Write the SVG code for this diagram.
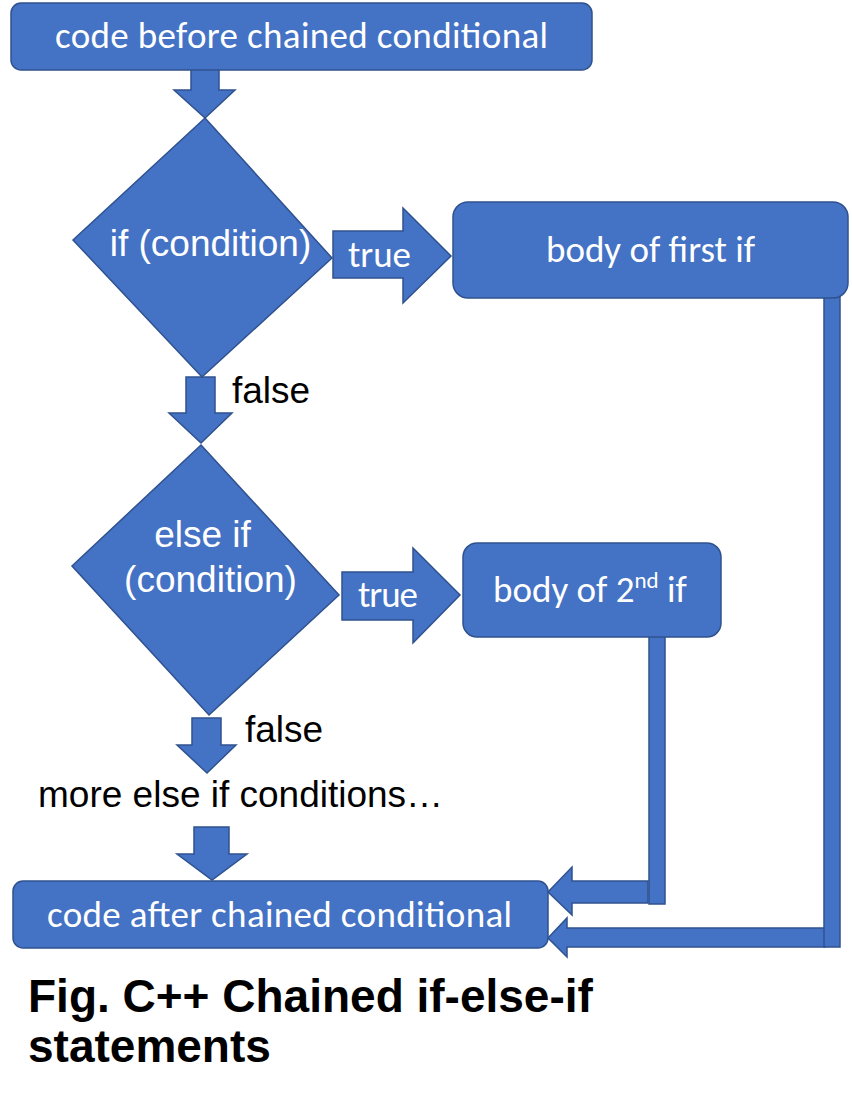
<svg xmlns="http://www.w3.org/2000/svg" width="852" height="1104" viewBox="0 0 852 1104">
<style>
.shape{fill:#4472C4;stroke:#2F528F;stroke-width:1.5;stroke-linejoin:miter}
.wt{fill:#ffffff;font-family:Carlito,Lato,'Open Sans',sans-serif;font-size:37px}
.ht{font-family:'Liberation Sans',Arial,Helvetica,sans-serif;font-size:37px}
.dt{fill:#ffffff}
.bt{fill:#000000}
.cap{font-family:'Liberation Sans',Arial,Helvetica,sans-serif;font-size:46px;font-weight:bold;fill:#000000}
</style>
<rect x="0" y="0" width="852" height="1104" fill="#ffffff"/>
<g id="connectors">
  <polygon class="shape" points="191,66 219,66 219,90 235,90 205,118 174,90 191,90"/>
  <polygon class="shape" points="333,231 403,231 403,208 451,256 403,303 403,278 333,278"/>
  <polygon class="shape" points="186,377 215,377 215,413 232,413 201,443 169,413 186,413"/>
  <polygon class="shape" points="342,572 413,572 413,548 460,595 413,643 413,620 342,620"/>
  <polygon class="shape" points="192,718 221,718 221,745 236,745 207,773 177,745 192,745"/>
  <polygon class="shape" points="194,827 229,827 229,854 247,854 212,880 177,854 194,854"/>
  <polygon class="shape" points="825,928 567,928 567,918 548,938 567,957 567,947 825,947"/>
  <rect class="shape" x="824" y="297" width="16" height="650"/>
  <polygon class="shape" points="648,881 572,881 572,867 548,892 572,915 572,903 648,903"/>
  <rect class="shape" x="649" y="636" width="16" height="268"/>
</g>
<g id="start">
  <rect class="shape" x="11" y="3" width="581" height="67" rx="10"/>
  <text class="wt" x="301.5" y="48" text-anchor="middle" textLength="493">code before chained conditional</text>
</g>
<g id="cond1">
  <polygon class="shape" points="205,118 332,258 202,377 73,240"/>
  <text class="ht dt" x="210.5" y="256" text-anchor="middle">if (condition)</text>
</g>
<g id="label-true1">
  <text class="wt" x="379.5" y="267" text-anchor="middle" textLength="63">true</text>
</g>
<g id="body1">
  <rect class="shape" x="453" y="202" width="395" height="96" rx="15"/>
  <text class="wt" x="650.5" y="262" text-anchor="middle" textLength="209">body of first if</text>
</g>
<g id="label-false1">
  <text class="ht bt" x="232" y="403">false</text>
</g>
<g id="cond2">
  <polygon class="shape" points="201,445 339,595 209,715 72,566"/>
  <text class="ht dt" x="202.5" y="547" text-anchor="middle">else if</text>
  <text class="ht dt" x="210.5" y="592" text-anchor="middle">(condition)</text>
</g>
<g id="label-true2">
  <text class="wt" x="388" y="607" text-anchor="middle" textLength="60">true</text>
</g>
<g id="body2">
  <rect class="shape" x="463" y="543" width="258" height="94" rx="14"/>
  <text class="wt" x="493" y="602">body of 2<tspan font-size="23" dy="-14">nd</tspan><tspan dy="14"> if</tspan></text>
</g>
<g id="label-false2">
  <text class="ht bt" x="245" y="742">false</text>
</g>
<g id="more">
  <text class="ht bt" x="38" y="807">more else if conditions…</text>
</g>
<g id="end">
  <rect class="shape" x="13" y="881" width="535" height="67" rx="10"/>
  <text class="wt" x="47" y="927" textLength="465">code after chained conditional</text>
</g>
<g id="caption">
  <text class="cap" x="28" y="1012">Fig. C++ Chained if-else-if</text>
  <text class="cap" x="28" y="1062">statements</text>
</g>
</svg>
